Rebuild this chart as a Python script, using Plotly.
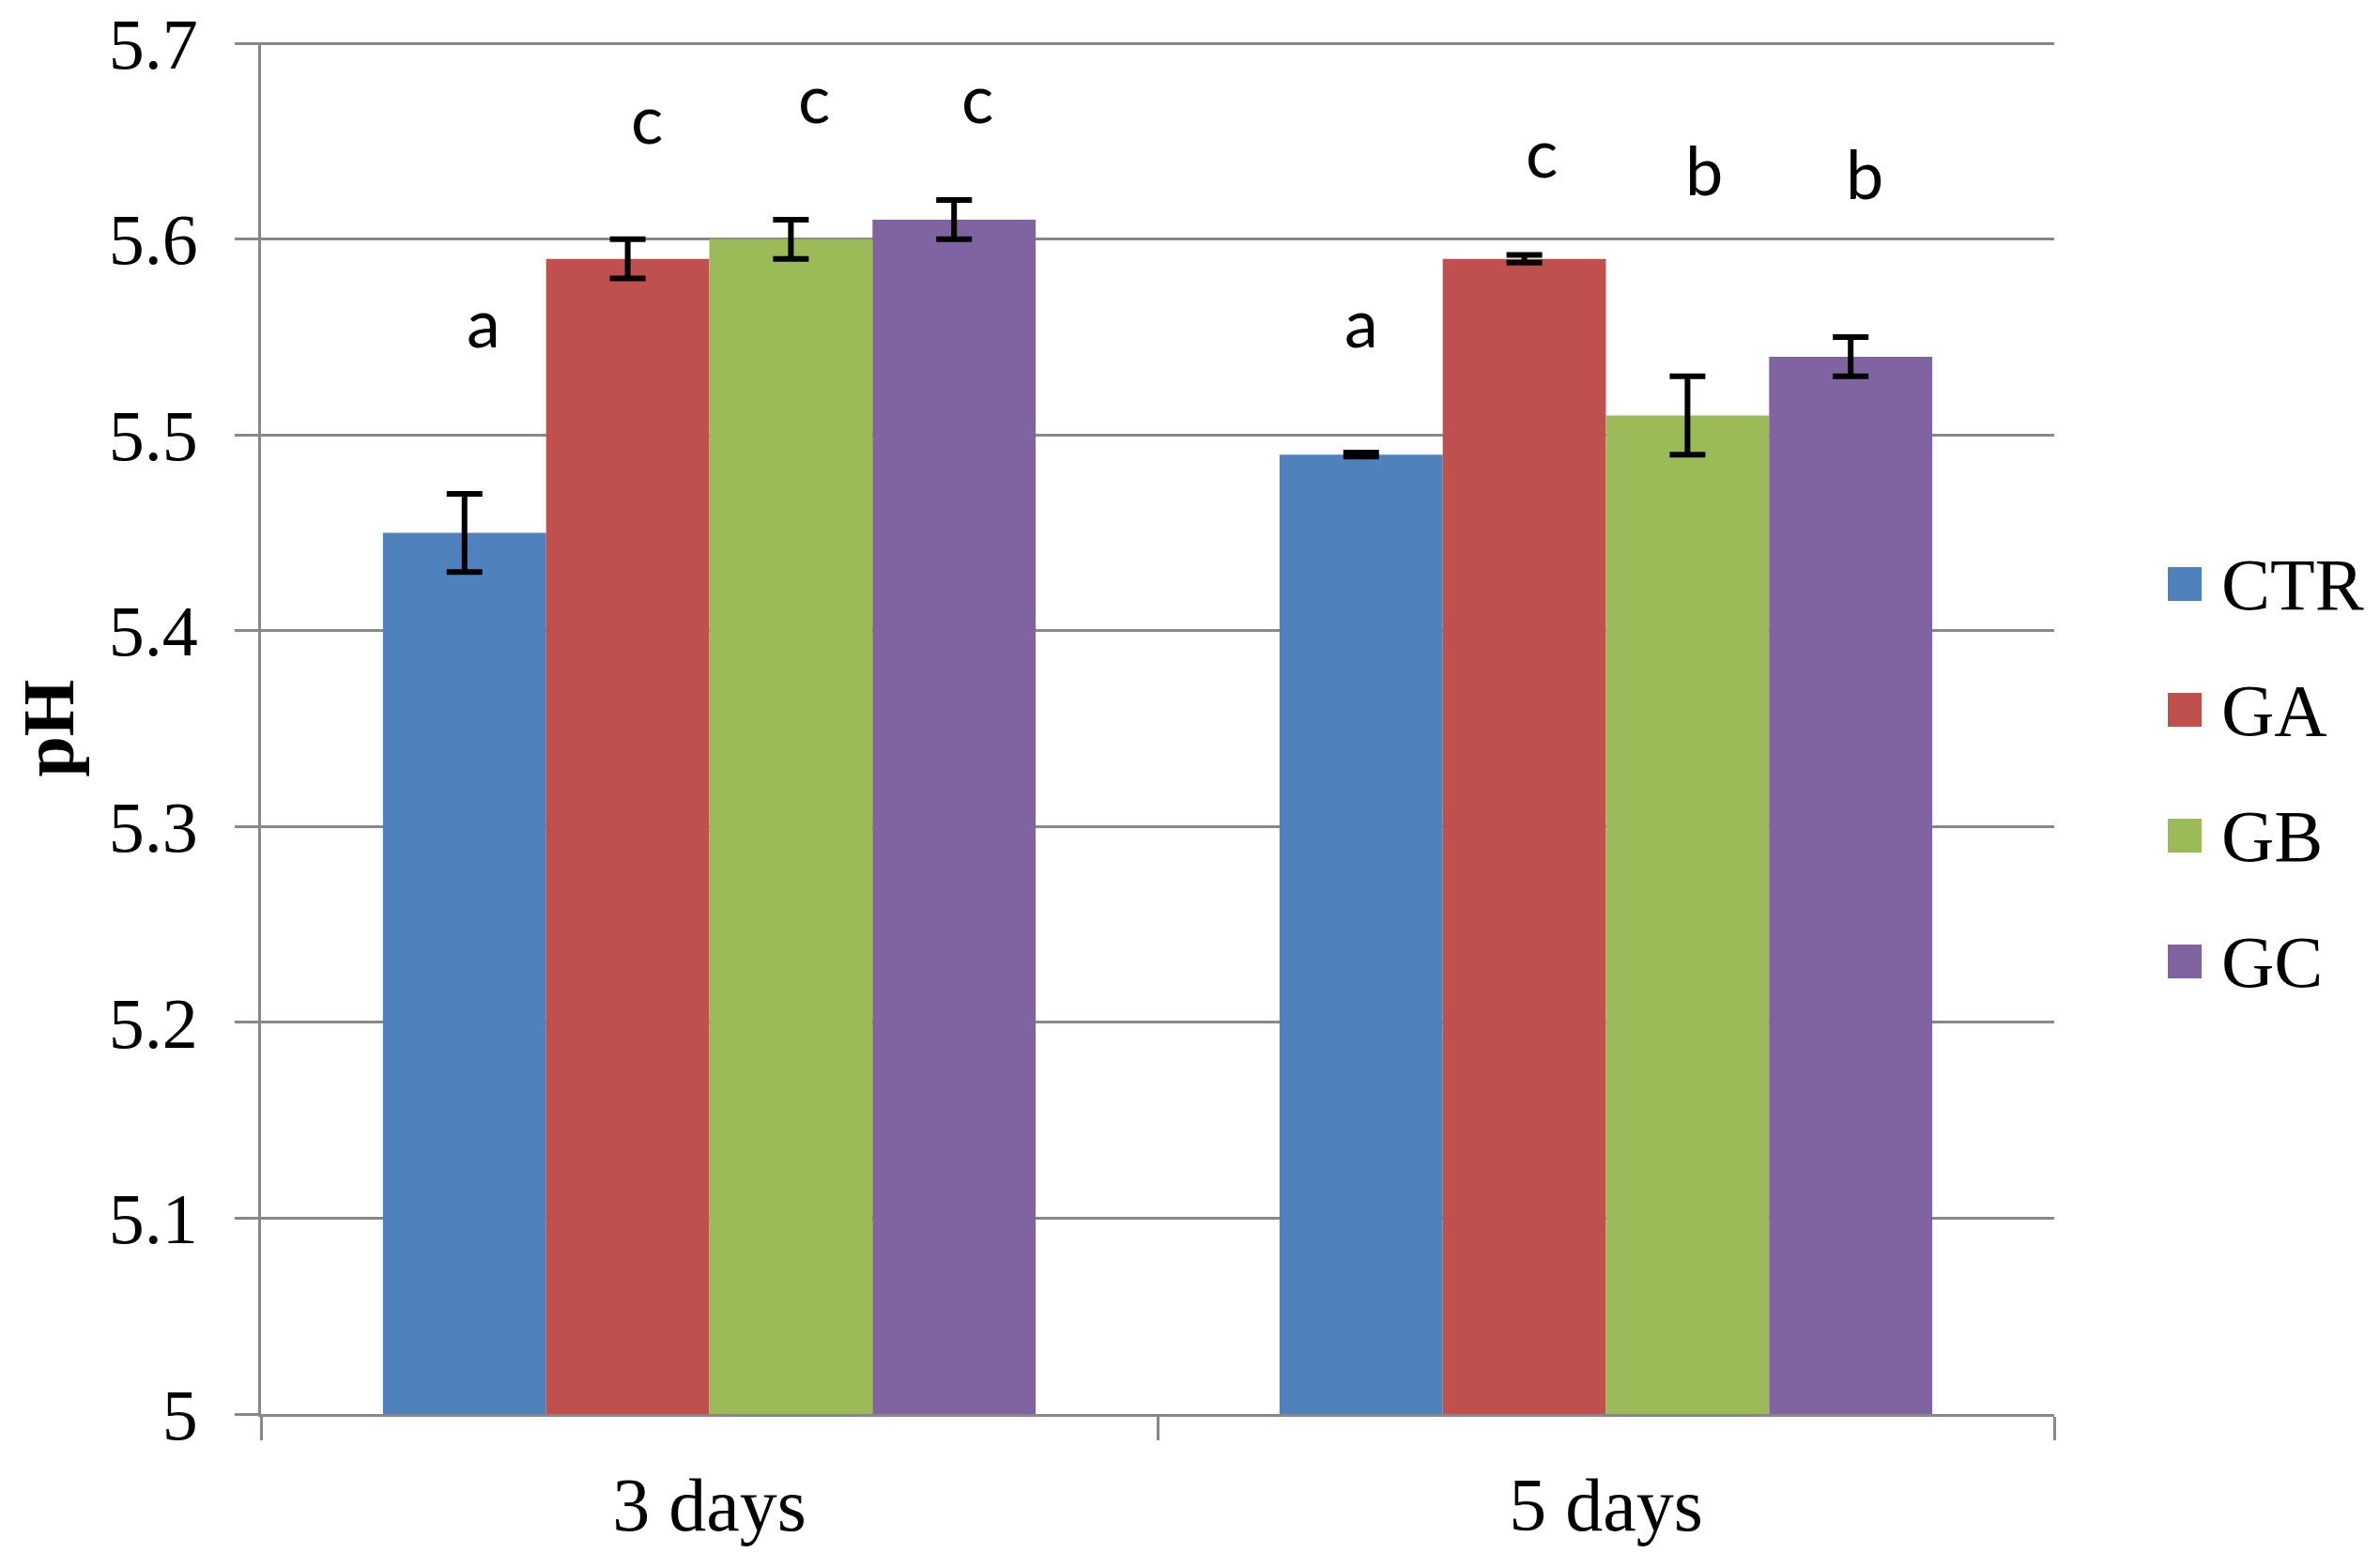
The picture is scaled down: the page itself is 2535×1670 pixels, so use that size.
import plotly.graph_objects as go

# ---------------- data ----------------
categories = ["3 days", "5 days"]
series_names = ["CTR", "GA", "GB", "GC"]

ctr_values = [5.45, 5.49]
ga_values = [5.59, 5.59]
gb_values = [5.60, 5.51]
gc_values = [5.61, 5.54]

ctr_err = [0.02, 0.001]
ga_err = [0.01, 0.002]
gb_err = [0.01, 0.02]
gc_err = [0.01, 0.01]

ctr_letters = ["a", "a"]
ga_letters = ["c", "c"]
gb_letters = ["c", "b"]
gc_letters = ["c", "b"]

y_ticks = [5.0, 5.1, 5.2, 5.3, 5.4, 5.5, 5.6, 5.7]

# ---------------- style / layout ----------------
colors = ["#4F81BD", "#C0504D", "#9BBB59", "#8064A2"]
values = [ctr_values, ga_values, gb_values, gc_values]
errors = [ctr_err, ga_err, gb_err, gc_err]
letters = [ctr_letters, ga_letters, gb_letters, gc_letters]

# letter label heights (data units, middle of text) per series / category
letter_y = [[5.558, 5.558], [5.662, 5.645], [5.673, 5.636], [5.673, 5.634]]
letter_xshift = [[20, 0], [20, 18], [25, 18], [25, 15]]

# figure sized to fit inside the page's default 8px body margin
W, H = 2519, 1654
ML, MT = 270, 37
PLOT_RIGHT, PLOT_BOTTOM = 2180, 1498
MR, MB = W - PLOT_RIGHT, H - PLOT_BOTTOM
PW, PH = W - ML - MR, H - MT - MB
BARGAP = 0.272
GRID = "#888888"
SERIF = "Liberation Serif"
SANS = "Lato"


def px_to_paper_x(px):
    return (px - ML) / PW


def px_to_paper_y(py):
    return 1 - (py - MT) / PH


fig = go.Figure()
for name, vals, errs, col in zip(series_names, values, errors, colors):
    fig.add_trace(go.Bar(
        name=name, x=categories, y=vals, marker=dict(color=col, line=dict(width=0)),
        error_y=dict(type="data", array=errs, color="black", thickness=6, width=19),
        showlegend=False,
    ))

annotations = []
n = len(series_names)
slot = (1 - BARGAP) / n
for i in range(n):
    for j in range(len(categories)):
        annotations.append(dict(
            x=j + (i - (n - 1) / 2) * slot, y=letter_y[i][j], xref="x", yref="y",
            text=letters[i][j], showarrow=False, xshift=letter_xshift[i][j],
            xanchor="center", yanchor="middle",
            font=dict(family=SANS, size=72, color="black"),
        ))

# manual legend (large square swatches)
legend_x_sq = 2319
legend_x_txt = 2356
legend_y0 = 614
legend_step = 134
shapes = []
for i, (name, col) in enumerate(zip(series_names, colors)):
    cy = legend_y0 + i * legend_step
    shapes.append(dict(
        type="rect", xref="paper", yref="paper",
        xsizemode="pixel", ysizemode="pixel",
        xanchor=px_to_paper_x(legend_x_sq), yanchor=px_to_paper_y(cy),
        x0=-18, x1=18, y0=-18, y1=18,
        fillcolor=col, line=dict(width=0),
    ))
    annotations.append(dict(
        x=px_to_paper_x(legend_x_txt), y=px_to_paper_y(cy), xref="paper", yref="paper",
        text=name, showarrow=False, xanchor="left", yanchor="middle",
        font=dict(family=SERIF, size=78, color="black"),
    ))

fig.update_layout(
    width=W, height=H,
    margin=dict(l=ML, r=MR, t=MT, b=MB, pad=0, autoexpand=False),
    paper_bgcolor="white", plot_bgcolor="white",
    barmode="group", bargap=BARGAP, bargroupgap=0,
    showlegend=False,
    annotations=annotations, shapes=shapes,
    font=dict(family=SERIF, size=76, color="black"),
)
fig.update_xaxes(
    automargin=False,
    showline=True, linecolor=GRID, linewidth=3,
    ticks="outside", tickson="boundaries", ticklen=25, tickwidth=3, tickcolor=GRID,
    tickfont=dict(family=SERIF, size=80, color="black"),
    ticklabelstandoff=25,
    showgrid=False, zeroline=False,
)
fig.update_yaxes(
    automargin=False,
    range=[5.0, 5.7006], tickvals=y_ticks,
    showline=True, linecolor=GRID, linewidth=3,
    ticks="outside", ticklen=25, tickwidth=3, tickcolor=GRID,
    showgrid=True, gridcolor=GRID, gridwidth=3, zeroline=False,
    tickfont=dict(family=SERIF, size=76, color="black"),
    ticklabelstandoff=24, ticklabeloverflow="allow",
    title=dict(text="<b>pH</b>", font=dict(family=SERIF, size=78, color="black"), standoff=18),
)

fig.write_html("out.html")
